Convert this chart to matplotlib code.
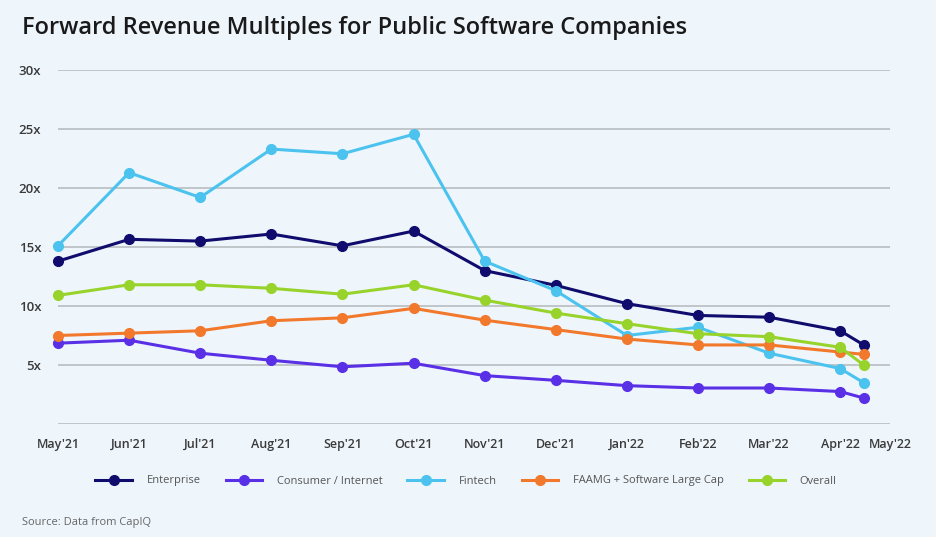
#!/usr/bin/env python3

import matplotlib
matplotlib.use('Agg')
import matplotlib.pyplot as plt

# month index on x (May'21 = 0); last reading is part-way into April '22
months = [0, 1, 2, 3, 4, 5, 6, 7, 8, 9, 10, 11, 11.33]
tick_pos = [0, 1, 2, 3, 4, 5, 6, 7, 8, 9, 10, 11, 11.7]
tick_labels = ["May'21", "Jun'21", "Jul'21", "Aug'21", "Sep'21", "Oct'21", "Nov'21",
               "Dec'21", "Jan'22", "Feb'22", "Mar'22", "Apr'22", "May'22"]

enterprise = [13.8, 15.65, 15.5, 16.1, 15.1, 16.35, 13.0, 11.75, 10.2, 9.2, 9.05, 7.9, 6.7]
consumer = [6.85, 7.1, 6.0, 5.4, 4.85, 5.15, 4.1, 3.7, 3.25, 3.05, 3.05, 2.75, 2.2]
fintech = [15.1, 21.3, 19.2, 23.3, 22.9, 24.55, 13.8, 11.3, 7.5, 8.2, 6.0, 4.7, 3.5]
faamg = [7.5, 7.7, 7.9, 8.75, 9.0, 9.8, 8.8, 8.0, 7.2, 6.7, 6.7, 6.1, 5.9]
overall = [10.9, 11.8, 11.8, 11.5, 11.0, 11.8, 10.5, 9.4, 8.5, 7.65, 7.4, 6.5, 5.0]

series = [
    ('Enterprise', enterprise, '#100c6e'),
    ('Consumer / Internet', consumer, '#5a30e6'),
    ('Fintech', fintech, '#4cc3ef'),
    ('FAAMG + Software Large Cap', faamg, '#f2792c'),
    ('Overall', overall, '#98d32c'),
]

bg = '#eef6fc'
plt.rcParams['font.family'] = ['Open Sans', 'DejaVu Sans']

fig = plt.figure(figsize=(9.36, 5.37), dpi=100, facecolor=bg)
ax = fig.add_axes([58 / 936, 113 / 537, 832 / 936, 354 / 537])
ax.set_facecolor(bg)

for name, vals, color in series:
    ax.plot(months, vals, color=color, lw=2.2, marker='o', ms=7,
            label=name, clip_on=False, zorder=3)

ax.set_xlim(0, 11.7)
ax.set_ylim(0, 30)
ax.set_yticks([0, 5, 10, 15, 20, 25, 30])
ax.set_yticklabels(['', '5x', '10x', '15x', '20x', '25x', '30x'])
ax.set_xticks(tick_pos)
ax.set_xticklabels(tick_labels)
ax.grid(axis='y', color='#b9bdc1', lw=1.2)
ax.set_axisbelow(True)
for s in ax.spines.values():
    s.set_visible(False)
ax.tick_params(axis='both', length=0, colors='#3a3a3a')
ax.tick_params(axis='y', pad=12, labelsize=9.5)
ax.tick_params(axis='x', pad=10, labelsize=9)
for lbl in ax.get_xticklabels() + ax.get_yticklabels():
    lbl.set_fontweight('semibold')

leg = fig.legend(loc='center', bbox_to_anchor=(466 / 936, 1 - 481 / 537), ncol=5,
                 frameon=False, fontsize=8, handlelength=3.3, columnspacing=2.25,
                 handletextpad=1.3, labelcolor='#555555')

fig.text(22 / 936, 1 - 28 / 537, 'Forward Revenue Multiples for Public Software Companies',
         fontsize=17, fontweight='semibold', color='#1a1a1a', va='center')
fig.text(22 / 936, 1 - 523 / 537, 'Source: Data from CapIQ', fontsize=8,
         color='#666666', va='center')

fig.savefig('out.png', dpi=100, facecolor=bg)
